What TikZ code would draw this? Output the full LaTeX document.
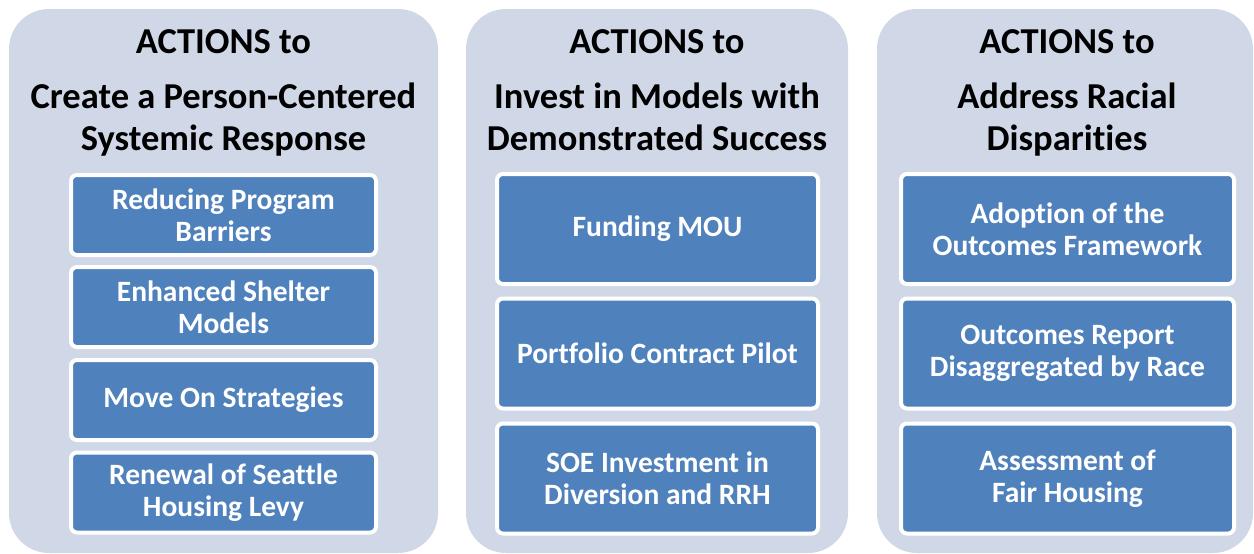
\documentclass[tikz,border=0pt]{standalone}
\usepackage{fontspec}
\setmainfont{Carlito}[Ligatures=NoCommon]
\definecolor{panelc}{HTML}{D0D8E8}
\definecolor{boxc}{HTML}{4F81BD}
\tikzset{
  panel/.style={fill=panelc, draw=none, rounded corners=40pt},
  title/.style={font=\bfseries\fontsize{36.5}{40}\selectfont, text=black, anchor=base, inner sep=0pt},
  abox/.style={fill=boxc, draw=white, line width=4pt, rounded corners=6pt, text=white,
    font=\bfseries\fontsize{29.5}{32}\selectfont, align=center, inner sep=0pt},
}
\begin{document}
\begin{tikzpicture}[x=1pt,y=-1pt]
\useasboundingbox (0,0) rectangle (1254,554);
% panels
\fill[panel] (9,9) rectangle (438,553);
\fill[panel] (466,9) rectangle (848,553);
\fill[panel] (877,9) rectangle (1253,553);
% titles
\node[title] (t1a) at (223.5,53) {ACTIONS to};
\node[title] (t1b) at (223.5,108.5) {Create a Person-Centered};
\node[title] (t1c) at (223.5,150) {Systemic Response};
\node[title] (t2a) at (657,53) {ACTIONS to};
\node[title] (t2b) at (657,108.5) {Invest in Models with};
\node[title] (t2c) at (657,150) {Demonstrated Success};
\node[title] (t3a) at (1067,53) {ACTIONS to};
\node[title] (t3b) at (1067,108.5) {Address Racial};
\node[title] (t3c) at (1067,150) {Disparities};
% panel 1 boxes
\begin{scope}[every node/.style={abox, minimum width=305pt, minimum height=80pt}]
\node (a1) at (223.5,215) {Reducing Program\\Barriers};
\node (a2) at (223.5,307) {Enhanced Shelter\\Models};
\node (a3) at (223.5,400) {Move On Strategies};
\node (a4) at (223.5,492.5) {Renewal of Seattle\\Housing Levy};
\end{scope}
\begin{scope}[every node/.style={abox, minimum width=321pt, minimum height=110pt}]
\node (b1) at (657.5,229) {Funding MOU};
\node (b2) at (657.5,353.5) {Portfolio Contract Pilot};
\node (b3) at (657.5,478.5) {SOE Investment in\\Diversion and RRH};
\end{scope}
\begin{scope}[every node/.style={abox, minimum width=333pt, minimum height=110pt}]
\node (c1) at (1067.5,229) {Adoption of the\\Outcomes Framework};
\node (c2) at (1067.5,353.5) {Outcomes Report\\Disaggregated by Race};
\node (c3) at (1067.5,478.5) {Assessment of\\Fair Housing};
\end{scope}
\end{tikzpicture}
\end{document}
